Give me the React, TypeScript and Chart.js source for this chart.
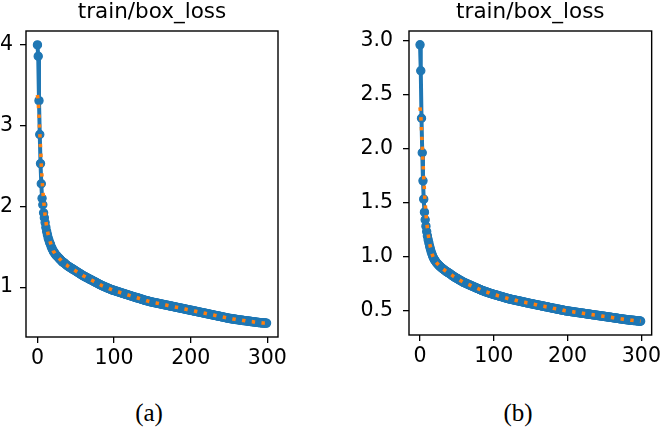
import React, { useEffect, useRef } from "react";
import { Chart, registerables } from "chart.js";

Chart.register(...registerables);

const TITLE = "train/box_loss";
const CAPTIONS = ["(a)", "(b)"];
const X_TICKS = [0, 100, 200, 300];
const Y_TICKS_A = [1, 2, 3, 4];
const Y_TICKS_B = [0.5, 1.0, 1.5, 2.0, 2.5, 3.0];

// (a) raw training box loss per epoch (0..299)
const LOSS_A = [
  4.0, 3.86, 3.31, 2.89, 2.53, 2.28, 2.1, 2.02, 1.92, 1.86,
  1.8, 1.74, 1.69, 1.65, 1.61, 1.58, 1.55, 1.53, 1.5, 1.48,
  1.46, 1.44, 1.43, 1.41, 1.4, 1.39, 1.38, 1.37, 1.36, 1.35,
  1.34, 1.33, 1.32, 1.31, 1.305, 1.3, 1.29, 1.28, 1.275, 1.265,
  1.26, 1.254, 1.248, 1.242, 1.236, 1.23, 1.224, 1.218, 1.212, 1.206,
  1.2, 1.194, 1.188, 1.182, 1.176, 1.17, 1.164, 1.158, 1.152, 1.146,
  1.14, 1.135, 1.13, 1.125, 1.12, 1.115, 1.11, 1.105, 1.1, 1.095,
  1.09, 1.085, 1.08, 1.075, 1.07, 1.065, 1.06, 1.055, 1.05, 1.045,
  1.04, 1.035, 1.03, 1.025, 1.02, 1.016, 1.012, 1.008, 1.004, 1.0,
  0.996, 0.992, 0.988, 0.984, 0.98, 0.976, 0.972, 0.968, 0.964, 0.961,
  0.958, 0.955, 0.952, 0.949, 0.946, 0.943, 0.94, 0.937, 0.934, 0.931,
  0.928, 0.925, 0.922, 0.919, 0.916, 0.913, 0.91, 0.907, 0.904, 0.901,
  0.898, 0.895, 0.892, 0.889, 0.886, 0.883, 0.88, 0.877, 0.874, 0.871,
  0.868, 0.865, 0.862, 0.859, 0.856, 0.853, 0.85, 0.847, 0.844, 0.841,
  0.838, 0.836, 0.833, 0.831, 0.828, 0.826, 0.823, 0.821, 0.818, 0.816,
  0.814, 0.812, 0.81, 0.808, 0.806, 0.804, 0.802, 0.8, 0.798, 0.796,
  0.794, 0.792, 0.79, 0.788, 0.786, 0.784, 0.782, 0.78, 0.778, 0.776,
  0.774, 0.772, 0.77, 0.768, 0.766, 0.764, 0.762, 0.76, 0.758, 0.756,
  0.754, 0.752, 0.75, 0.748, 0.746, 0.744, 0.742, 0.74, 0.738, 0.736,
  0.734, 0.732, 0.73, 0.728, 0.726, 0.724, 0.722, 0.72, 0.718, 0.716,
  0.714, 0.712, 0.71, 0.708, 0.706, 0.704, 0.702, 0.7, 0.698, 0.696,
  0.694, 0.692, 0.69, 0.688, 0.686, 0.684, 0.682, 0.68, 0.678, 0.676,
  0.674, 0.672, 0.67, 0.668, 0.666, 0.664, 0.662, 0.66, 0.658, 0.656,
  0.654, 0.652, 0.65, 0.648, 0.646, 0.644, 0.642, 0.64, 0.638, 0.636,
  0.634, 0.632, 0.63, 0.628, 0.626, 0.624, 0.622, 0.62, 0.618, 0.616,
  0.614, 0.612, 0.611, 0.609, 0.608, 0.606, 0.605, 0.603, 0.602, 0.6,
  0.599, 0.598, 0.596, 0.595, 0.594, 0.592, 0.591, 0.59, 0.588, 0.587,
  0.586, 0.585, 0.583, 0.582, 0.581, 0.579, 0.578, 0.577, 0.575, 0.574,
  0.573, 0.572, 0.57, 0.569, 0.568, 0.567, 0.565, 0.564, 0.563, 0.562,
  0.561, 0.56, 0.559, 0.558, 0.557, 0.557, 0.556, 0.556, 0.555, 0.555,
];
// (a) smoothed curve, first epochs (afterwards it follows the raw curve)
const SMOOTH_HEAD_A = [
  3.38, 3.3, 3.13, 2.93, 2.72, 2.52, 2.35, 2.2, 2.08, 1.98,
  1.89, 1.82, 1.75, 1.7, 1.65, 1.61, 1.58, 1.55, 1.52, 1.49, 1.47,
];

// (b) raw training box loss per epoch (0..299)
const LOSS_B = [
  2.96, 2.72, 2.28, 1.96, 1.7, 1.53, 1.41, 1.34, 1.28, 1.23,
  1.19, 1.155, 1.125, 1.095, 1.07, 1.045, 1.025, 1.005, 0.99, 0.975,
  0.965, 0.955, 0.945, 0.937, 0.929, 0.922, 0.915, 0.908, 0.902, 0.896,
  0.89, 0.884, 0.879, 0.874, 0.869, 0.864, 0.859, 0.854, 0.85, 0.846,
  0.842, 0.837, 0.832, 0.827, 0.822, 0.817, 0.812, 0.808, 0.804, 0.8,
  0.796, 0.792, 0.788, 0.784, 0.78, 0.776, 0.772, 0.768, 0.764, 0.76,
  0.757, 0.754, 0.751, 0.748, 0.745, 0.742, 0.739, 0.736, 0.733, 0.73,
  0.727, 0.724, 0.721, 0.718, 0.715, 0.712, 0.709, 0.706, 0.703, 0.7,
  0.697, 0.694, 0.691, 0.688, 0.685, 0.682, 0.68, 0.677, 0.675, 0.672,
  0.67, 0.668, 0.665, 0.663, 0.661, 0.658, 0.656, 0.654, 0.652, 0.65,
  0.648, 0.646, 0.644, 0.642, 0.64, 0.638, 0.636, 0.634, 0.632, 0.63,
  0.628, 0.626, 0.624, 0.622, 0.62, 0.618, 0.616, 0.614, 0.612, 0.61,
  0.608, 0.606, 0.605, 0.603, 0.602, 0.6, 0.599, 0.597, 0.596, 0.594,
  0.593, 0.591, 0.59, 0.588, 0.587, 0.585, 0.584, 0.582, 0.581, 0.579,
  0.578, 0.576, 0.575, 0.573, 0.572, 0.57, 0.569, 0.567, 0.566, 0.564,
  0.563, 0.561, 0.56, 0.559, 0.557, 0.556, 0.554, 0.553, 0.552, 0.55,
  0.549, 0.547, 0.546, 0.545, 0.543, 0.542, 0.54, 0.539, 0.538, 0.536,
  0.535, 0.533, 0.532, 0.531, 0.529, 0.528, 0.526, 0.525, 0.524, 0.522,
  0.521, 0.519, 0.518, 0.517, 0.515, 0.514, 0.512, 0.511, 0.51, 0.508,
  0.507, 0.505, 0.504, 0.503, 0.501, 0.5, 0.499, 0.497, 0.496, 0.495,
  0.494, 0.493, 0.492, 0.491, 0.49, 0.489, 0.488, 0.487, 0.486, 0.485,
  0.484, 0.483, 0.482, 0.481, 0.48, 0.479, 0.478, 0.477, 0.476, 0.475,
  0.474, 0.473, 0.472, 0.471, 0.47, 0.469, 0.468, 0.467, 0.466, 0.465,
  0.464, 0.463, 0.462, 0.461, 0.46, 0.459, 0.458, 0.457, 0.456, 0.455,
  0.454, 0.453, 0.452, 0.451, 0.45, 0.449, 0.448, 0.447, 0.446, 0.445,
  0.444, 0.443, 0.442, 0.441, 0.44, 0.439, 0.438, 0.437, 0.436, 0.435,
  0.434, 0.433, 0.432, 0.431, 0.43, 0.429, 0.428, 0.427, 0.426, 0.425,
  0.424, 0.423, 0.422, 0.421, 0.42, 0.419, 0.418, 0.417, 0.416, 0.415,
  0.414, 0.413, 0.412, 0.411, 0.411, 0.41, 0.409, 0.408, 0.408, 0.407,
  0.406, 0.406, 0.405, 0.404, 0.404, 0.403, 0.402, 0.402, 0.401, 0.4,
];
// (b) smoothed curve, first epochs (afterwards it follows the raw curve)
const SMOOTH_HEAD_B = [
  2.38, 2.31, 2.18, 2.03, 1.88, 1.73, 1.6, 1.49, 1.4, 1.32,
  1.26, 1.21, 1.16, 1.12, 1.09, 1.06, 1.03, 1.01, 0.99, 0.97, 0.96,
];

const BLUE = "#1f77b4";
const ORANGE = "#ff7f0e";
const FONT = "DejaVu Sans";

const spinesPlugin = {
  id: "spines",
  afterDatasetsDraw(chart: any) {
    const { ctx, chartArea } = chart;
    const { left, top, right, bottom } = chartArea;
    ctx.save();
    ctx.strokeStyle = "#000";
    ctx.lineWidth = 1.4;
    ctx.strokeRect(left, top, right - left, bottom - top);
    ctx.restore();
  },
};

type PanelProps = {
  loss: number[];
  smoothHead: number[];
  yTicks: number[];
  yDecimals: number;
  left: number;
  width: number;
  height: number;
  yAxisWidth: number;
  xAxisHeight: number;
  rightPad: number;
  yPad: number;
};

function Panel(p: PanelProps) {
  const ref = useRef<HTMLCanvasElement | null>(null);
  useEffect(() => {
    if (!ref.current) return;
    const smooth = [...p.smoothHead, ...p.loss.slice(p.smoothHead.length)];
    const rawPts = p.loss.map((v, i) => ({ x: i, y: v }));
    const smoothPts = smooth.map((v, i) => ({ x: i, y: v }));
    const all = [...p.loss, ...smooth];
    const yMinD = Math.min(...all);
    const yMaxD = Math.max(...all);
    const yr = yMaxD - yMinD;
    const xMinD = 0;
    const xMaxD = p.loss.length - 1;
    const xr = xMaxD - xMinD;
    const tickFont = { family: FONT, size: 20.5 };
    const chart = new Chart(ref.current, {
      type: "line",
      data: {
        datasets: [
          {
            data: rawPts,
            borderColor: BLUE,
            backgroundColor: BLUE,
            borderWidth: 4,
            pointRadius: 4.1,
            pointBorderWidth: 1.2,
            pointBackgroundColor: BLUE,
            pointBorderColor: BLUE,
            tension: 0,
            order: 2,
          },
          {
            data: smoothPts,
            borderColor: ORANGE,
            borderWidth: 3.6,
            borderDash: [3.4, 6.4],
            borderCapStyle: "butt",
            pointRadius: 0,
            tension: 0,
            order: 1,
          },
        ],
      },
      options: {
        responsive: false,
        animation: false,
        devicePixelRatio: 1,
        layout: { padding: { left: 0, right: p.rightPad, top: 0, bottom: 0 } },
        plugins: {
          legend: { display: false },
          tooltip: { enabled: false },
          title: {
            display: true,
            text: TITLE,
            fullSize: false,
            color: "#000",
            font: { family: FONT, size: 21.5, weight: "normal" },
            padding: { top: 0, bottom: 5.2 },
          },
        },
        scales: {
          x: {
            type: "linear",
            min: xMinD - 0.05 * xr,
            max: xMaxD + 0.05 * xr,
            afterBuildTicks: (s: any) => {
              s.ticks = X_TICKS.map((v) => ({ value: v }));
            },
            afterFit: (s: any) => {
              s.height = p.xAxisHeight;
            },
            grid: {
              drawOnChartArea: false,
              drawTicks: true,
              tickLength: 6,
              color: "#000",
              lineWidth: 1.3,
            },
            border: { display: false },
            ticks: {
              font: tickFont,
              color: "#000",
              padding: 3.5,
              maxRotation: 0,
              autoSkip: false,
              callback: (v: any) => String(v),
            },
          },
          y: {
            type: "linear",
            min: yMinD - 0.05 * yr,
            max: yMaxD + 0.05 * yr,
            afterBuildTicks: (s: any) => {
              s.ticks = p.yTicks.map((v) => ({ value: v }));
            },
            afterFit: (s: any) => {
              s.width = p.yAxisWidth;
            },
            grid: {
              drawOnChartArea: false,
              drawTicks: true,
              tickLength: 6,
              color: "#000",
              lineWidth: 1.3,
            },
            border: { display: false },
            ticks: {
              font: tickFont,
              color: "#000",
              padding: p.yPad,
              autoSkip: false,
              callback: (v: any) => Number(v).toFixed(p.yDecimals),
            },
          },
        },
      },
      plugins: [spinesPlugin],
    } as any);
    return () => chart.destroy();
  }, []);
  return (
    <canvas
      ref={ref}
      width={p.width}
      height={p.height}
      style={{ position: "absolute", left: p.left, top: 0, width: p.width, height: p.height }}
    />
  );
}

export default function App() {
  const capStyle = (cx: number): React.CSSProperties => ({
    position: "absolute",
    left: cx - 50,
    top: 399,
    width: 100,
    textAlign: "center",
    fontFamily: "Liberation Serif",
    fontSize: 25,
    lineHeight: "28px",
    color: "#000",
  });
  return (
    <div
      style={{
        position: "fixed",
        left: 0,
        top: 0,
        width: 665,
        height: 430,
        background: "#fff",
        overflow: "hidden",
      }}
    >
      <Panel
        loss={LOSS_A}
        smoothHead={SMOOTH_HEAD_A}
        yTicks={Y_TICKS_A}
        yDecimals={0}
        left={0}
        width={300}
        height={380}
        yAxisWidth={26}
        xAxisHeight={43}
        rightPad={22}
        yPad={7}
      />
      <Panel
        loss={LOSS_B}
        smoothHead={SMOOTH_HEAD_B}
        yTicks={Y_TICKS_B}
        yDecimals={1}
        left={340}
        width={325}
        height={380}
        yAxisWidth={69}
        xAxisHeight={45}
        rightPad={10}
        yPad={10}
      />
      <div style={capStyle(149)}>{CAPTIONS[0]}</div>
      <div style={capStyle(518)}>{CAPTIONS[1]}</div>
    </div>
  );
}
